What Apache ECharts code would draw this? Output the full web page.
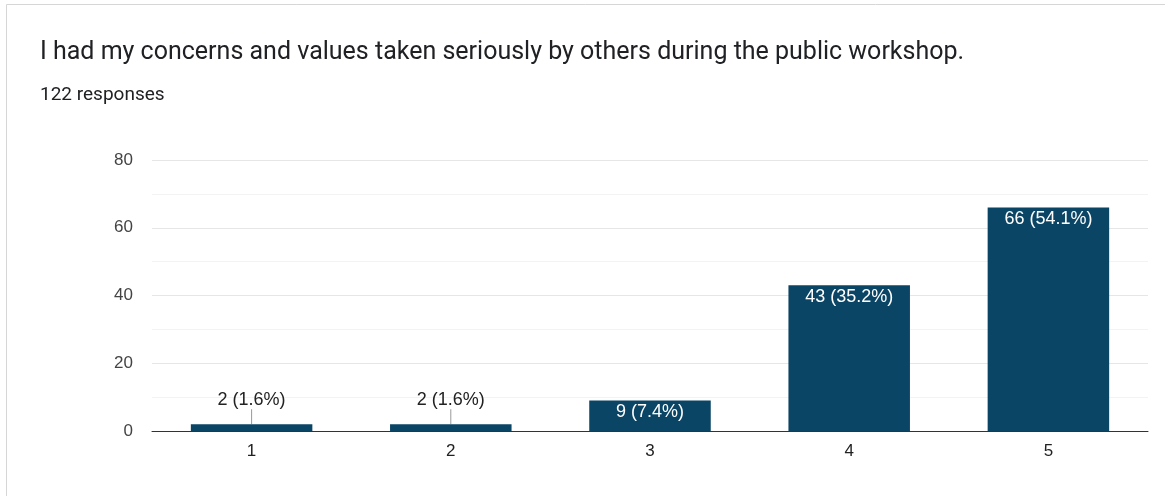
<!DOCTYPE html>
<html><head><meta charset="utf-8">
<script src="https://cdn.jsdelivr.net/npm/echarts@6/dist/echarts.min.js"></script>
<style>html,body{margin:0;padding:0;background:#fff}#c{width:1165px;height:496px}</style>
</head><body><div id="c"></div>
<script>
const titleText = 'I had my concerns and values taken seriously by others during the public workshop.';
const subtitleText = '122 responses';
const categories = ['1', '2', '3', '4', '5'];
const counts = [2, 2, 9, 43, 66];
const totalResponses = 122;
const yTicks = [0, 20, 40, 60, 80];
const outsideLabelIdx = [0, 1];

const chart = echarts.init(document.getElementById('c'), null, {renderer: 'canvas'});
const data = counts.map((v, i) => {
  const outside = outsideLabelIdx.includes(i);
  return {
    value: v,
    label: outside ? {position: 'top', distance: 2, color: '#222'} : {position: 'insideTop', distance: 3, color: '#fff'},
    labelLine: outside ? {show: true, lineStyle: {color: '#999', width: 1}} : {show: false}
  };
});
chart.setOption({
  animation: false,
  textStyle: {fontFamily: 'Liberation Sans, Arial, sans-serif'},
  graphic: [
    {type: 'polyline', shape: {points: [[6.5, 496], [6.5, 4.5], [1165, 4.5]]}, style: {stroke: '#d6d6d6', lineWidth: 1, fill: null}},
    {type: 'text', left: 40, top: 40, style: {text: titleText, font: '25px Roboto, Liberation Sans, sans-serif', fill: '#202124'}},
    {type: 'text', left: 40, top: 86, style: {text: subtitleText, font: '19px Roboto, Liberation Sans, sans-serif', fill: '#202124'}}
  ],
  grid: {left: 152, right: 17, top: 160, bottom: 65, containLabel: false},
  xAxis: {
    type: 'category', data: categories,
    axisLine: {lineStyle: {color: '#333', width: 1}},
    axisTick: {show: false},
    axisLabel: {color: '#222', fontSize: 17, margin: 12}
  },
  yAxis: {
    type: 'value', min: yTicks[0], max: yTicks[yTicks.length - 1], interval: 20,
    axisLine: {show: false}, axisTick: {show: false},
    axisLabel: {color: '#444', fontSize: 17, margin: 19},
    splitLine: {lineStyle: {color: '#e6e6e6'}},
    minorTick: {show: false, splitNumber: 2},
    minorSplitLine: {show: true, lineStyle: {color: '#f3f3f3'}}
  },
  series: [{
    type: 'bar', data: data, barWidth: '61%',
    itemStyle: {color: '#0b4566'},
    label: {
      show: true, fontSize: 18,
      formatter: p => p.value + ' (' + (p.value / totalResponses * 100).toFixed(1) + '%)'
    },
    labelLayout: p => outsideLabelIdx.includes(p.dataIndex) ? {dy: -13} : {}
  }]
});
</script></body></html>
